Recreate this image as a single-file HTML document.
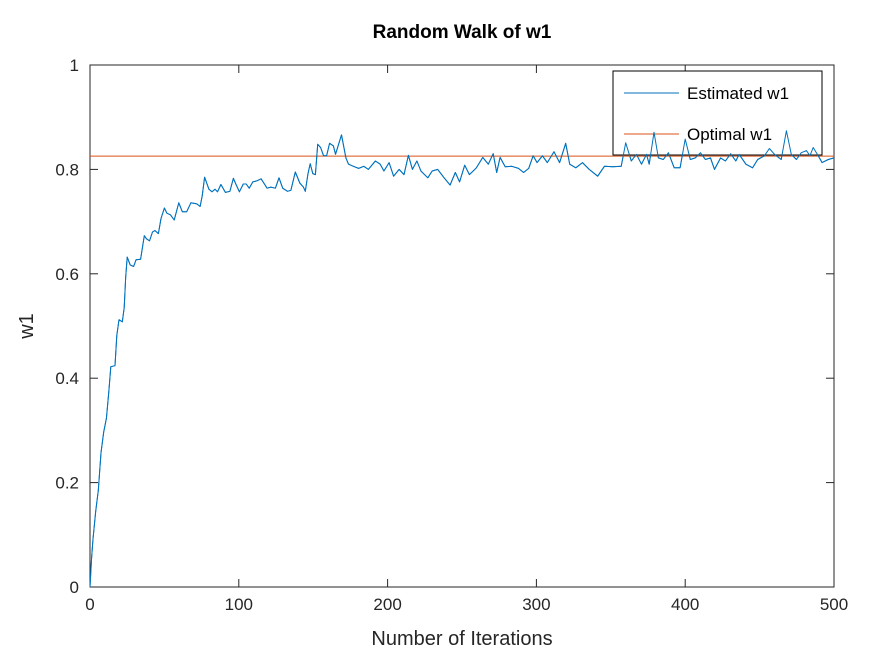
<!DOCTYPE html>
<html><head><meta charset="utf-8"><style>
body{margin:0;background:#fff;width:871px;height:654px;overflow:hidden}
svg{display:block;font-family:"Liberation Sans",sans-serif}
</style></head><body>
<svg id="chart" width="871" height="654">
<rect x="0" y="0" width="871" height="654" fill="#fff"/>
<text x="462" y="38" text-anchor="middle" font-size="19" font-weight="bold" fill="#000">Random Walk of w1</text>
<g id="ticks"></g>
<g id="series"></g>
<rect x="90" y="65" width="744" height="522" fill="none" stroke="#262626" stroke-width="1"/>
<text x="462" y="645" text-anchor="middle" font-size="20" fill="#262626">Number of Iterations</text>
<text x="0" y="0" transform="translate(33,326) rotate(-90)" text-anchor="middle" font-size="20" fill="#262626">w1</text>
<g>
<rect x="613" y="71" width="209" height="84" fill="#fff" stroke="#000" stroke-width="1"/>
<line x1="624" y1="93" x2="679" y2="93" stroke="#0072bd" stroke-width="1"/>
<text x="687" y="99" font-size="17" fill="#000">Estimated w1</text>
<line x1="624" y1="134" x2="679" y2="134" stroke="#d95319" stroke-width="1"/>
<text x="687" y="140" font-size="17" fill="#000">Optimal w1</text>
</g>
<g id="overlay"></g>
</svg>
<script>
const iterations=[0,1,2,3.8,5.6,7.4,9.2,11,12.7,14,16.8,18,19.5,21.7,23,24,25,27,29.3,31,34,36.5,38,40,42,43.6,46,47.7,50,51.7,54,56.6,59.7,62,65,67.8,71.8,74,75.4,77,79.9,82,84,85.7,88,91,94,96.4,98,100.4,103,105,107,109.4,112,115,117,119,121.5,124.6,127,129.5,132.7,135,138,141,143.4,144.7,146.5,148,149.7,151.5,153,155,157,159,161,163.6,165,169,172,173.7,177,180.5,184,187,191.8,195,197.5,201,204,207.7,211,214,216.7,219.7,222.4,227,230,233.7,238,242,245.5,248.4,251.8,255,259.7,264,267.7,271,273.3,275.6,279,283.5,288,291.4,294.8,297.8,300.5,304,307.3,311.8,315.6,319.7,322.4,326.5,331,335.5,341.2,345.7,351.4,357,360,363.8,367.2,370.6,374,375.8,379,382,385.3,388.7,392.6,396.6,400,403.4,406.8,410.2,413.6,417,419.7,423.8,427,430.6,434,436.2,440.8,445.3,448.7,453.2,456.6,460,464.5,468,471.3,474.7,478,481.5,483.8,486,489.4,492,496.2,500];
const estimated=[0,.053,.092,.145,.185,.257,.297,.323,.376,.422,.424,.482,.512,.508,.535,.594,.632,.617,.614,.627,.628,.673,.667,.663,.680,.683,.677,.706,.726,.716,.713,.703,.736,.719,.719,.736,.734,.729,.749,.785,.762,.757,.762,.757,.771,.756,.758,.783,.772,.757,.772,.772,.764,.776,.778,.782,.773,.764,.766,.764,.784,.764,.758,.760,.795,.774,.766,.758,.792,.811,.792,.790,.848,.842,.826,.826,.850,.845,.829,.866,.822,.810,.806,.802,.806,.800,.816,.810,.797,.813,.787,.800,.790,.827,.800,.816,.797,.784,.797,.800,.784,.770,.794,.776,.808,.790,.803,.823,.810,.830,.794,.823,.805,.806,.802,.794,.802,.826,.813,.826,.813,.834,.813,.850,.810,.803,.813,.800,.787,.806,.805,.806,.851,.816,.829,.810,.829,.810,.871,.822,.819,.832,.803,.803,.858,.819,.822,.832,.819,.822,.800,.822,.816,.830,.816,.829,.810,.803,.819,.826,.840,.829,.819,.874,.829,.819,.832,.836,.826,.842,.826,.813,.819,.822];
const optimalValue=[0.8255];
const xTicks=[0,100,200,300,400,500];
const yTicks=[0,0.2,0.4,0.6,0.8,1];
const yTickLabels=["0","0.2","0.4","0.6","0.8","1"];

const X0=90,X1=834,Y0=587,Y1=65;
function xs(v){return X0+(v-0)/(500-0)*(X1-X0);}
function ys(v){return Y0-(v-0)/(1-0)*(Y0-Y1);}
const NS="http://www.w3.org/2000/svg";
const tg=document.getElementById('ticks');
function mk(tag,attrs,parent){const e=document.createElementNS(NS,tag);for(const k in attrs)e.setAttribute(k,attrs[k]);parent.appendChild(e);return e;}
xTicks.forEach(function(t){
  const x=xs(t);
  const l1=mk('line',{x1:x,y1:Y0,x2:x,y2:Y0-8,stroke:'#262626'},tg);
  
  
  const l2=mk('line',{x1:x,y1:Y1,x2:x,y2:Y1+8,stroke:'#262626'},tg);
  
  
  const tx=mk('text',{x:x,y:Y0+23,'text-anchor':'middle','font-size':'17',fill:'#262626'},tg);
  tx.textContent=String(t);
  
  
});
yTicks.forEach(function(t,i){
  const y=ys(t);
  const l1=mk('line',{x1:X0,y1:y,x2:X0+8,y2:y,stroke:'#262626'},tg);
  
  
  const l2=mk('line',{x1:X1,y1:y,x2:X1-8,y2:y,stroke:'#262626'},tg);
  
  
  const tx=mk('text',{x:X0-11,y:y+6,'text-anchor':'end','font-size':'17',fill:'#262626'},tg);
  tx.textContent=yTickLabels[i];
  
  
});
const sg=document.getElementById('series');
const pts=iterations.map(function(it,i){return xs(it).toFixed(1)+','+ys(estimated[i]).toFixed(1);}).join(' ');
const pl=mk('polyline',{points:pts,fill:'none',stroke:'#0072bd','stroke-width':'1','stroke-linejoin':'round'},sg);


const og=document.getElementById('overlay');
const ol=mk('line',{x1:xs(0),y1:ys(optimalValue[0]),x2:xs(500),y2:ys(optimalValue[0]),stroke:'#d95319','stroke-width':'1'},og);


const pl2=mk('polyline',{points:pts,fill:'none',stroke:'#0072bd','stroke-width':'1','stroke-linejoin':'round'},og);


</script>
</body></html>
